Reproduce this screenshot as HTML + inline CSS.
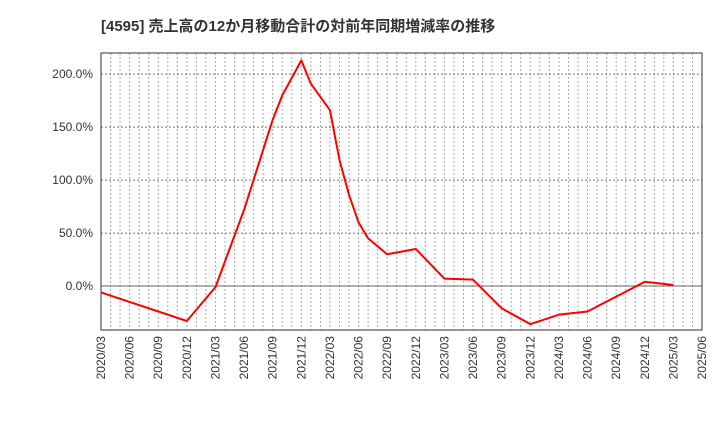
<!DOCTYPE html>
<html><head><meta charset="utf-8"><style>
body{margin:0;background:#fff;}
svg text{font-family:"Liberation Sans","Noto Sans CJK JP",sans-serif;}
</style></head><body>
<svg id="chart" width="720" height="440" xmlns="http://www.w3.org/2000/svg">
<text x="101" y="31" font-size="15" font-weight="bold" fill="#333">[4595]  売上高の12か月移動合計の対前年同期増減率の推移</text>
<g id="grid"></g><g id="axes"></g><g id="series"></g>
</svg>
<script>
const dates=["2020/03","2020/12","2021/03","2021/06","2021/09","2021/10","2021/12","2022/01","2022/03","2022/04","2022/05","2022/06","2022/07","2022/09","2022/12","2023/03","2023/06","2023/09","2023/12","2024/03","2024/06","2024/09","2024/12","2025/03"];
const values=[-6,-33,-1,72,157,180,213,191,166,119,86,60,45,30,35,7,6,-21,-36,-27,-24,-10,4,1];
const yTicks=[0,50,100,150,200];
const xTickLabels=["2020/03","2020/06","2020/09","2020/12","2021/03","2021/06","2021/09","2021/12","2022/03","2022/06","2022/09","2022/12","2023/03","2023/06","2023/09","2023/12","2024/03","2024/06","2024/09","2024/12","2025/03","2025/06"];
const L=101,R=702,T=53,B=330,yMin=-41.5,yMax=220;
const NS="http://www.w3.org/2000/svg";
function mi(d){const [y,m]=d.split('/').map(Number);return (y-2020)*12+m-3;}
const totalM=mi("2025/06");
function xs(d){return L+(R-L)*mi(d)/totalM;}
function ys(v){return B-(B-T)*(v-yMin)/(yMax-yMin);}
function mk(tag,attrs,parent){const e=document.createElementNS(NS,tag);for(const k in attrs)e.setAttribute(k,attrs[k]);document.getElementById(parent).appendChild(e);return e;}
for(let m=1;m<totalM;m++){const x=L+(R-L)*m/totalM;
 const g=mk('line',{x1:x,x2:x,y1:T,y2:B,stroke:'#aaa','stroke-dasharray':'2,2','stroke-width':1},'grid');
 }
yTicks.forEach(v=>{const y=ys(v);
 const g=mk('line',{x1:L,x2:R,y1:y,y2:y,stroke:v===0?'#666':'#777','stroke-dasharray':v===0?'':'2,2','stroke-width':1},'grid');
 
 const t=mk('text',{x:L-8,y:y+4,'text-anchor':'end','font-size':12,fill:'#333'},'axes');t.textContent=v.toFixed(1)+'%';
 });
xTickLabels.forEach(d=>{const x=xs(d);
 const t=mk('text',{x:x+4,y:B+6,'text-anchor':'end','font-size':12,fill:'#333',transform:`rotate(-90 ${x+4} ${B+6})`},'axes');t.textContent=d;
 });
const f=mk('rect',{x:L,y:T,width:R-L,height:B-T,fill:'none',stroke:'#333','stroke-width':1},'axes');

const p=mk('polyline',{points:dates.map((d,i)=>xs(d)+','+ys(values[i])).join(' '),fill:'none',stroke:'#f00','stroke-width':2,'stroke-linejoin':'round'},'series');

</script>
</body></html>
